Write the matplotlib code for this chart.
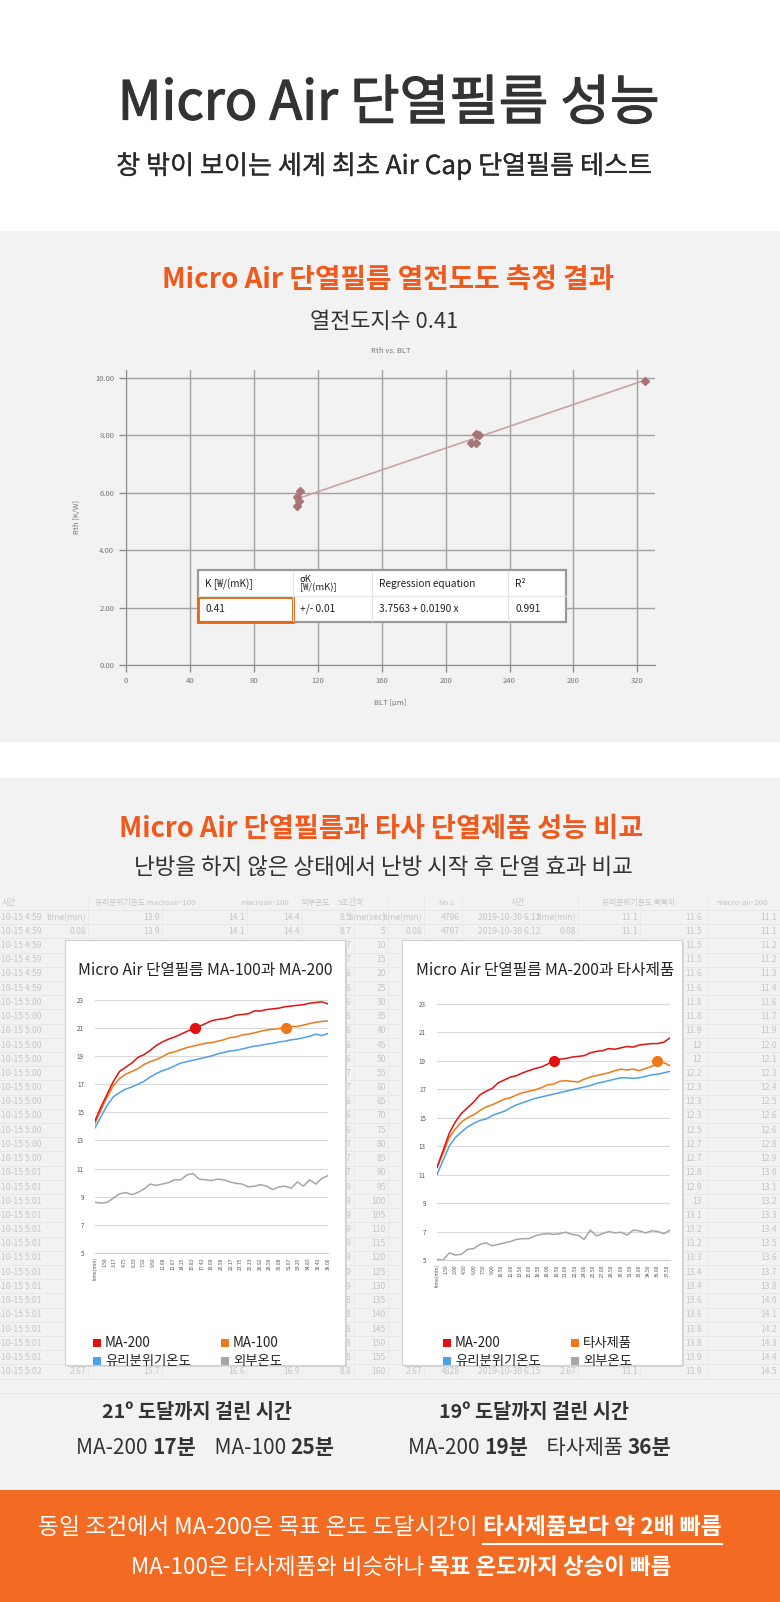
import matplotlib
matplotlib.use('Agg')
import matplotlib.pyplot as plt
import matplotlib.patheffects as pe
from matplotlib.patches import Rectangle

W, H = 780, 1602
KR = ['Noto Sans CJK KR', 'DejaVu Sans']
plt.rcParams['font.family'] = KR

# ---- thermal conductivity test (Rth vs BLT) ----
blt = [107, 107, 108, 109, 216, 219, 219, 221, 325]
rth = [5.55, 5.85, 5.7, 6.05, 7.75, 7.72, 8.05, 8.03, 9.9]
reg_a, reg_b = 3.7563, 0.0190
fit_x = [108, 325]
table_head = ['K [₩/(mK)]', 'σK\n[₩/(mK)]', 'Regression equation', 'R²']
table_row = ['0.41', '+/- 0.01', '3.7563 + 0.0190 x', '0.991']

# ---- chart 1: MA-100 vs MA-200 (per minute) ----
t_left = list(range(39))
ma200_l = [14.4, 15.4, 16.3, 17.2, 17.9, 18.2, 18.5, 18.9, 19.1, 19.4, 19.75, 20.0, 20.2,
           20.35, 20.55, 20.75, 20.95, 21.1, 21.3, 21.5, 21.6, 21.65, 21.75, 21.9, 21.95,
           22.0, 22.2, 22.2, 22.3, 22.35, 22.4, 22.5, 22.55, 22.6, 22.65, 22.75, 22.8, 22.85, 22.7]
ma100_l = [14.2, 15.2, 16.1, 16.9, 17.4, 17.7, 17.9, 18.1, 18.4, 18.6, 18.75, 18.95, 19.2,
           19.3, 19.45, 19.6, 19.7, 19.8, 19.9, 19.95, 20.05, 20.15, 20.3, 20.35, 20.5,
           20.55, 20.65, 20.75, 20.85, 20.9, 20.95, 21.05, 21.1, 21.1, 21.2, 21.3, 21.4, 21.45, 21.5]
glass_l = [13.9, 14.7, 15.5, 16.1, 16.4, 16.65, 16.8, 17.0, 17.2, 17.5, 17.75, 17.95, 18.1,
           18.3, 18.5, 18.6, 18.7, 18.8, 18.9, 19.0, 19.15, 19.25, 19.35, 19.4, 19.5,
           19.6, 19.7, 19.75, 19.85, 19.9, 20.0, 20.05, 20.15, 20.2, 20.3, 20.4, 20.55, 20.45, 20.6]
out_l = [8.6, 8.55, 8.6, 8.9, 9.2, 9.3, 9.15, 9.3, 9.55, 9.9, 9.8, 9.9, 10.0,
         10.2, 10.2, 10.55, 10.65, 10.25, 10.2, 10.15, 10.25, 10.2, 10.05, 9.95, 9.9,
         9.7, 9.75, 9.85, 9.75, 9.5, 9.7, 9.75, 9.6, 10.05, 9.75, 10.2, 9.9, 10.3, 10.5]
xt_left = [0, 1.58, 3.17, 4.75, 6.33, 7.92, 9.50, 11.08, 12.67, 14.25, 15.83, 17.42, 19.00,
           20.58, 22.17, 23.75, 25.33, 26.92, 28.50, 30.08, 31.67, 33.25, 34.83, 36.42, 38.00]
dots_left = [(16.3, 21.0), (31.2, 21.0)]

# ---- chart 2: MA-200 vs competitor ----
t_right = list(range(39))
ma200_r = [11.5, 12.7, 13.9, 14.7, 15.3, 15.7, 16.1, 16.6, 16.85, 17.05, 17.45, 17.65, 17.85,
           17.95, 18.15, 18.3, 18.45, 18.55, 18.75, 19.0, 19.1, 19.15, 19.25, 19.3, 19.35,
           19.55, 19.65, 19.7, 19.85, 19.8, 19.9, 20.0, 19.95, 20.1, 20.15, 20.2, 20.2, 20.3, 20.6]
comp_r = [11.5, 12.5, 13.6, 14.2, 14.7, 15.0, 15.2, 15.5, 15.75, 15.9, 16.1, 16.3, 16.4,
          16.6, 16.75, 16.85, 16.95, 17.1, 17.3, 17.35, 17.55, 17.6, 17.55, 17.5, 17.7,
          17.85, 17.95, 18.05, 18.15, 18.3, 18.4, 18.35, 18.4, 18.3, 18.45, 18.6, 18.8, 18.85, 18.65]
glass_r = [11.0, 12.0, 13.0, 13.6, 14.0, 14.35, 14.6, 14.8, 14.9, 15.15, 15.3, 15.45, 15.7,
           15.9, 16.05, 16.2, 16.35, 16.45, 16.55, 16.65, 16.75, 16.85, 16.95, 17.05, 17.15,
           17.25, 17.4, 17.5, 17.6, 17.7, 17.8, 17.8, 17.75, 17.8, 17.9, 18.0, 18.05, 18.15, 18.25]
out_r = [5.05, 5.0, 5.5, 5.35, 5.4, 5.75, 5.8, 6.1, 6.2, 6.0, 6.1, 6.2, 6.3,
         6.45, 6.5, 6.5, 6.7, 6.8, 6.85, 6.8, 6.85, 6.95, 6.8, 6.75, 6.45,
         7.1, 6.7, 6.85, 7.0, 6.9, 6.95, 6.75, 7.1, 7.05, 6.9, 7.05, 7.0, 6.85, 7.1]
xt_right = [0, 1.5, 3.0, 4.5, 6.0, 7.5, 9.0, 10.5, 12.0, 13.5, 15.0, 16.5, 18.0, 19.5, 21.0,
            22.5, 24.0, 25.5, 27.0, 28.5, 30.0, 31.5, 33.0, 34.5, 36.0, 37.5]
dots_right = [(19.0, 19.0), (35.9, 18.95)]

# background spreadsheet (decorative)
sheet_head = [('시간', 2), ('유리분위기온도 macroair-100', 95), ('macroair-200', 240), ('외부온도', 302),
              ('5초간격', 338), ('No.s', 438), ('시간', 511), ('유리분위기온도 뽁뽁이', 602),
              ('macro-air-200', 716)]
sheet_time = ['4:59'] * 6 + ['5:00'] * 12 + ['5:01'] * 14 + ['5:02']
sheet_out = ['8.5', '8.7', '8.7', '8.7', '8.6', '8.6', '8.6', '8.6', '8.6', '8.6', '8.6', '8.7', '8.7',
             '8.6', '8.6', '8.6', '8.7', '8.7', '8.7', '8.9', '8.9', '8.9', '8.9', '8.9', '8.9',
             '8.9', '8.9', '8.8', '8.8', '8.8', '8.8', '8.8', '8.8']
sheet_sec = ['time(sec)'] + [str(5 * i) for i in range(1, 33)]
sheet_bb = ['11.6', '11.5', '11.5', '11.5', '11.6', '11.6', '11.8', '11.8', '11.9', '12', '12', '12.2',
            '12.3', '12.3', '12.3', '12.5', '12.7', '12.7', '12.8', '12.9', '13', '13.1', '13.2',
            '13.2', '13.3', '13.4', '13.4', '13.6', '13.6', '13.8', '13.8', '13.9', '13.9']
sheet_ma = ['11.1', '11.1', '11.2', '11.2', '11.3', '11.4', '11.6', '11.7', '11.9', '12.0', '12.1',
            '12.3', '12.4', '12.5', '12.6', '12.6', '12.8', '12.9', '13.0', '13.1', '13.2', '13.3',
            '13.4', '13.5', '13.6', '13.7', '13.8', '14.0', '14.1', '14.2', '14.3', '14.4', '14.5']

RED = '#e31010'
ORG = '#f07818'
BLUE = '#4ea0e8'
GRAY = '#a6a6a6'
HEAD = '#ef5a1c'
DARK = '#333333'


def px_box(x0, y0, x1, y1):
    return [x0 / W, 1 - y1 / H, (x1 - x0) / W, (y1 - y0) / H]


fig = plt.figure(figsize=(W / 100, H / 100), dpi=100)
fig.patch.set_facecolor('white')
renderer = fig.canvas.get_renderer()

bg = fig.add_axes([0, 0, 1, 1], zorder=0)
bg.set_xlim(0, W)
bg.set_ylim(H, 0)
bg.axis('off')

bg.add_patch(Rectangle((0, 231), W, 511, fc='#f2f2f2', ec='none'))
bg.add_patch(Rectangle((0, 778), W, 712, fc='#f2f2f2', ec='none'))
bg.add_patch(Rectangle((0, 1490), W, 112, fc='#f36b22', ec='none'))


def rich(ax, x, y, parts, size, color, zorder=5):
    objs = []
    for s, w in parts:
        t = ax.text(0, y, s, fontsize=size, fontweight=w, color=color,
                    ha='left', va='center', zorder=zorder)
        objs.append((t, t.get_window_extent(renderer).width))
    x0 = x - sum(wd for _, wd in objs) / 2
    spans = []
    for t, wd in objs:
        t.set_x(x0)
        spans.append((x0, x0 + wd))
        x0 += wd
    return spans


# headings (regular face thickened a little to look like a medium weight)
bg.text(389, 104, 'Micro Air 단열필름 성능', fontsize=38.8, color=DARK, ha='center', va='center',
        path_effects=[pe.withStroke(linewidth=0.9, foreground=DARK)])
bg.text(384, 166, '창 밖이 보이는 세계 최초 Air Cap 단열필름 테스트', fontsize=18.8, color='#2a2a2a',
        ha='center', va='center', path_effects=[pe.withStroke(linewidth=0.2, foreground='#2a2a2a')])
bg.text(388, 280, 'Micro Air 단열필름 열전도도 측정 결과', fontsize=20, fontweight='bold', color=HEAD,
        ha='center', va='center')
bg.text(384, 322, '열전도지수 0.41', fontsize=15.8, color=DARK, ha='center', va='center')
bg.text(381, 829, 'Micro Air 단열필름과 타사 단열제품 성능 비교', fontsize=19.6, fontweight='bold',
        color=HEAD, ha='center', va='center')
bg.text(383, 868, '난방을 하지 않은 상태에서 난방 시작 후 단열 효과 비교', fontsize=16.2, color=DARK,
        ha='center', va='center')

# spreadsheet behind the charts
SC = '#c6c6c6'
FS = 6.2
row0 = 903
step = 14.2
for i in range(35):
    bg.plot([0, W], [row0 + 7 + step * i] * 2, color='#e6e6e6', lw=0.6, zorder=1)
for cx in [88, 162, 247, 302, 354, 388, 424, 462, 578, 640, 708]:
    bg.plot([cx, cx], [row0 - 8, row0 + 7 + step * 33], color='#e9e9e9', lw=0.6, zorder=1)
for s, x in sheet_head:
    bg.text(x, row0, s, fontsize=5.6, color=SC, ha='left', va='center', zorder=2)
for i in range(33):
    y = row0 + step * (i + 1)
    bg.text(-2, y, '-10-15 ' + sheet_time[i], fontsize=FS, color=SC, ha='left', va='center', zorder=2)
    bg.text(352, y, sheet_out[i], fontsize=FS, color=SC, ha='right', va='center', zorder=2)
    bg.text(386, y, sheet_sec[i], fontsize=FS, color=SC, ha='right', va='center', zorder=2)
    bg.text(702, y, sheet_bb[i], fontsize=FS, color=SC, ha='right', va='center', zorder=2)
    bg.text(760, y, sheet_ma[i], fontsize=FS, color=SC, ha='left', va='center', zorder=2)
y1, y2 = row0 + step, row0 + 2 * step
for s, x, yy in [('time(min)', 86, y1), ('0.08', 86, y2), ('13.9', 160, y1), ('13.9', 160, y2),
                 ('14.1', 245, y1), ('14.1', 245, y2), ('14.4', 300, y1), ('14.4', 300, y2),
                 ('time(min)', 422, y1), ('0.08', 422, y2), ('4796', 460, y1), ('4797', 460, y2),
                 ('time(min)', 576, y1), ('0.08', 576, y2), ('11.1', 638, y1), ('11.1', 638, y2)]:
    bg.text(x, yy, s, fontsize=FS, color=SC, ha='right', va='center', zorder=2)
bg.text(478, y1, '2019-10-30 6:12', fontsize=FS, color=SC, ha='left', va='center', zorder=2)
bg.text(478, y2, '2019-10-30 6:12', fontsize=FS, color=SC, ha='left', va='center', zorder=2)
yb = row0 + step * 33
for s, x in [('2.67', 86), ('15.7', 160), ('16.6', 245), ('16.9', 300),
             ('2.67', 422), ('4828', 460), ('2.67', 576), ('13.1', 638)]:
    bg.text(x, yb, s, fontsize=FS, color=SC, ha='right', va='center', zorder=2)
bg.text(478, yb, '2019-10-30 6:15', fontsize=FS, color=SC, ha='left', va='center', zorder=2)

# chart cards
for x0 in [65, 402]:
    bg.add_patch(Rectangle((x0 + 2, 942), 280, 425, fc='#d8d8d8', ec='none', zorder=3))
    bg.add_patch(Rectangle((x0, 940), 280, 425, fc='white', ec='#d0d0d0', lw=0.8, zorder=4))
bg.text(205, 970, 'Micro Air 단열필름 MA-100과 MA-200', fontsize=11.3, color='#222222',
        ha='center', va='center', zorder=5)
bg.text(545, 970, 'Micro Air 단열필름 MA-200과 타사제품', fontsize=11.3, color='#222222',
        ha='center', va='center', zorder=5)

# legends
for x0, second in [(97, 'MA-100'), (447, '타사제품')]:
    for (dx, dy, c, s) in [(0, 0, RED, 'MA-200'), (128, 0, ORG, second),
                           (0, 18, BLUE, '유리분위기온도'), (128, 18, GRAY, '외부온도')]:
        bg.add_patch(Rectangle((x0 + dx - 4, 1339 + dy), 8, 8, fc=c, ec='none', zorder=5))
        bg.text(x0 + dx + 8, 1343 + dy, s, fontsize=9.6, color='#222222', ha='left',
                va='center', zorder=5)

# result texts
bg.text(197, 1412, '21º 도달까지 걸린 시간', fontsize=14.2, fontweight='bold', color=DARK,
        ha='center', va='center')
bg.text(534, 1412, '19º 도달까지 걸린 시간', fontsize=14.2, fontweight='bold', color=DARK,
        ha='center', va='center')
rich(bg, 205, 1448, [('MA-200 ', 'normal'), ('17분', 'bold'), ('    MA-100 ', 'normal'),
                     ('25분', 'bold')], 15, DARK)
rich(bg, 540, 1448, [('MA-200 ', 'normal'), ('19분', 'bold'), ('    타사제품 ', 'normal'),
                     ('36분', 'bold')], 15, DARK)

# banner
sp = rich(bg, 380, 1527, [('동일 조건에서 MA-200은 목표 온도 도달시간이 ', 'normal'),
                          ('타사제품보다 약 2배 빠름', 'bold')], 16.4, 'white')
bg.plot([sp[1][0], sp[1][1]], [1544, 1544], color='white', lw=1.5, zorder=5)
rich(bg, 401, 1567, [('MA-100은 타사제품와 비슷하나 ', 'normal'), ('목표 온도까지 상승이 빠름', 'bold')],
     16.2, 'white')

# ---- scatter chart ----
ax = fig.add_axes(px_box(126, 370, 655, 665), zorder=1)
ax.set_facecolor('none')
ax.plot(fit_x, [reg_a + reg_b * x for x in fit_x], color='#c9a3a3', lw=1.2, zorder=2)
ax.plot(blt, rth, 'D', color='#a87474', ms=4.5, zorder=3)
ax.set_xlim(0, 331)
ax.set_ylim(0, 10.28)
ax.set_xticks(range(0, 321, 40))
ax.set_yticks(range(0, 11, 2))
ax.set_yticklabels(['%.2f' % v for v in range(0, 11, 2)])
ax.grid(True, color='#a0a0a0', lw=1)
ax.set_axisbelow(True)
for s in ['top', 'right']:
    ax.spines[s].set_visible(False)
for s in ['left', 'bottom']:
    ax.spines[s].set_color('#8c8c8c')
ax.tick_params(labelsize=5.5, labelcolor='#777777', color='#8c8c8c', length=5, width=1)
ax.set_xlabel('BLT [μm]', fontsize=5.5, color='#777777', labelpad=10)
ax.set_ylabel('Rth [K/W]', fontsize=5.5, color='#777777', labelpad=10)
ax.set_title('Rth vs. BLT', fontsize=5.5, color='#777777', pad=12)

# table over the scatter chart
tb = fig.add_axes([0, 0, 1, 1], zorder=3)
tb.set_xlim(0, W)
tb.set_ylim(H, 0)
tb.axis('off')
cols = [198, 293, 372, 508, 566]
tb.add_patch(Rectangle((cols[0], 570), cols[-1] - cols[0], 52, fc='white', ec='#9a9a9a', lw=1.6))
for cx in cols[1:-1]:
    tb.plot([cx, cx], [571, 621], color='#e2e2e2', lw=0.8)
tb.plot([cols[0], cols[-1]], [596, 596], color='#e2e2e2', lw=0.8)
for i in range(4):
    tb.text(cols[i] + 7, 584, table_head[i], fontsize=7.3 if i != 1 else 6.8, color='#222222',
            ha='left', va='center', linespacing=0.85)
    tb.text(cols[i] + 7, 609, table_row[i], fontsize=7.3, color='#222222', ha='left', va='center')
tb.add_patch(Rectangle((cols[0], 597), cols[1] - cols[0], 25, fc='none', ec='#e8650f', lw=2))


# ---- small line charts ----
def small_chart(box, t, series, dots, xt, xlim):
    a = fig.add_axes(px_box(*box), zorder=2)
    a.set_facecolor('none')
    for y, c in series:
        a.plot(t, y, color=c, lw=1.1)
    for (x, y), c in zip(dots, [RED, ORG]):
        a.plot(x, y, 'o', color=c, ms=7, zorder=5)
    a.set_xlim(0, xlim)
    a.set_ylim(5, 23.05)
    a.set_yticks(range(5, 24, 2))
    a.grid(axis='y', color='#dadada', lw=0.8)
    a.set_axisbelow(True)
    a.set_xticks(xt)
    a.set_xticklabels(['time(min)'] + ['%.2f' % v for v in xt[1:]], rotation=90)
    for s in ['top', 'right', 'left']:
        a.spines[s].set_visible(False)
    a.spines['bottom'].set_color('#d0d0d0')
    a.tick_params(axis='x', labelsize=3.6, labelcolor='#555555', length=0, pad=3)
    a.tick_params(axis='y', labelsize=4.5, labelcolor='#555555', length=0, pad=8)
    return a


small_chart((95, 999, 328, 1253), t_left,
            [(out_l, GRAY), (glass_l, BLUE), (ma100_l, ORG), (ma200_l, RED)],
            dots_left, xt_left, 38)
small_chart((437, 1003, 670, 1260), t_right,
            [(out_r, GRAY), (glass_r, BLUE), (comp_r, ORG), (ma200_r, RED)],
            dots_right, xt_right, 38)

fig.savefig('out.png', dpi=100)
